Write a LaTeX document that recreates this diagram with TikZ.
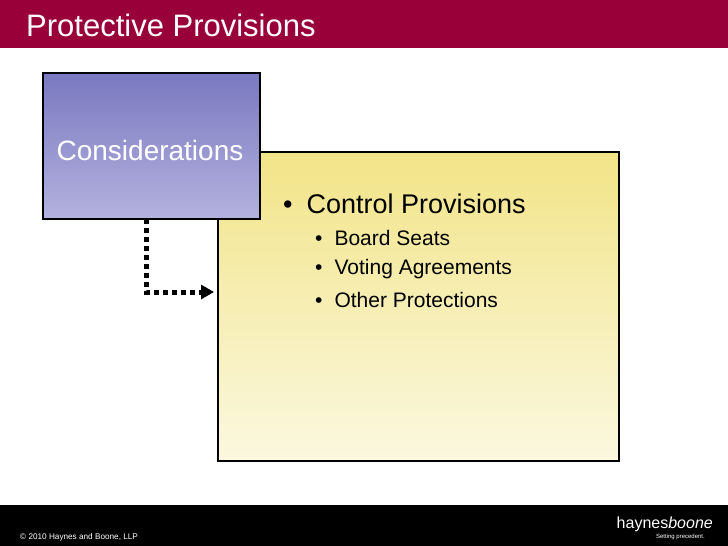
\documentclass[tikz,border=0pt]{standalone}
\usepackage{fontspec}
\setmainfont{Liberation Sans}
\usetikzlibrary{arrows.meta}
\definecolor{hdr}{HTML}{99003A}
\definecolor{ptop}{HTML}{7A78C0}
\definecolor{pbot}{HTML}{B4B2DE}
\definecolor{ytop}{HTML}{F2E488}
\definecolor{ybot}{HTML}{FBF8E0}
\tikzset{x=1pt,y=-1pt,
 txt/.style={anchor=west,inner sep=0pt},
 bx/.style={draw=black,line width=1.5pt}}
\begin{document}
\begin{tikzpicture}
\useasboundingbox (0,0) rectangle (728,546);
\fill[white] (0,0) rectangle (728,546);
\fill[hdr] (0,0) rectangle (728,48);
\node[txt,text=white,font=\fontsize{31}{34}\selectfont] (title) at (26,25) {Protective Provisions};
\fill[black] (0,505) rectangle (728,546);
\node[txt,text=white,font=\fontsize{8.2}{9}\selectfont] (copy) at (20,537) {© 2010 Haynes and Boone, LLP};
\node[anchor=east,inner sep=0pt,text=white,font=\fontsize{16}{18}\selectfont] (logo) at (713,524) {haynes\textit{boone}};
\node[anchor=east,inner sep=0pt,text=white,font=\fontsize{6}{7}\selectfont] (tag) at (705,537) {Setting precedent.};
\shade[top color=ytop,bottom color=ybot] (218,152) rectangle (619,461);
\draw[bx] (218,152) rectangle (619,461);
\node[inner sep=0pt,minimum width=217pt,minimum height=146pt,anchor=north west,bx,top color=ptop,bottom color=pbot] (cons) at (42,72) {};
\node[text=white,font=\fontsize{28}{32}\selectfont] (ct) at (150,150) {Considerations};
\coordinate (a0) at (146,219);
\coordinate (a1) at (146,292);
\coordinate (a2) at (214,292);
\draw[line width=5pt,dash pattern=on 5pt off 4pt,-{Triangle[length=13pt,width=14pt]}] (a0) -- (a1) -- (a2);
\node[txt,font=\fontsize{27}{30}\selectfont] (b1) at (283,204) {•\hspace{14pt}Control Provisions};
\node[txt,font=\fontsize{21}{24}\selectfont] (b2) at (315,238) {•\hspace{12pt}Board Seats};
\node[txt,font=\fontsize{21}{24}\selectfont] (b3) at (315,269) {•\hspace{12pt}Voting Agreements};
\node[txt,font=\fontsize{21}{24}\selectfont] (b4) at (315,300) {•\hspace{12pt}Other Protections};
\end{tikzpicture}
\end{document}
